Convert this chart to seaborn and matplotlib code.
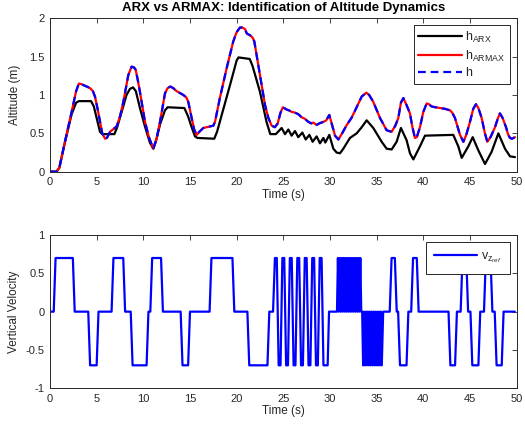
import matplotlib
matplotlib.use("Agg")
import matplotlib.pyplot as plt
import seaborn as sns
import pandas as pd

# ---------------- data ----------------
t_meas = [0, 0.7, 1.0, 1.6, 2.32, 2.8, 3.1, 3.4, 3.75, 4.29, 4.6, 4.82, 5.1, 5.36, 5.6, 5.9, 6.1,
          6.43, 7.14, 7.5, 7.86, 8.39, 8.75, 9.0, 9.18, 9.4, 9.64, 10.18, 10.6, 11.07, 11.4, 11.79,
          12.32, 12.6, 12.9, 13.2, 13.57, 14.29, 14.6, 14.82, 15.18, 15.45, 15.71, 16.0, 16.43,
          17.14, 17.5, 17.68, 18.2, 18.93, 19.64, 20.0, 20.36, 20.6, 20.89, 21.1, 21.43, 21.7,
          21.89, 22.2, 22.5, 23.04, 23.4, 23.75, 24.1, 24.4, 24.7, 24.95, 25.36, 25.6, 25.9, 26.25,
          26.6, 26.96, 27.3, 27.68, 28.0, 28.2, 28.57, 28.86, 29.3, 29.6, 29.93, 30.2, 30.54, 30.9,
          31.3, 31.8, 32.3, 32.7, 33.4, 33.9, 34.2, 34.64, 35.36, 36.07, 36.6, 37.0, 37.32, 37.6,
          37.86, 38.2, 38.57, 38.8, 39.1, 39.3, 39.64, 40.0, 40.36, 40.6, 40.89, 41.3, 41.79, 42.3,
          42.86, 43.1, 43.39, 43.93, 44.29, 44.6, 45.0, 45.35, 45.64, 45.9, 46.25, 46.6, 46.86,
          47.2, 47.68, 48.0, 48.21, 48.5, 48.86, 49.1, 49.29, 49.5, 49.82]
h_meas = [0, 0.0, 0.05, 0.39, 0.78, 1.05, 1.15, 1.14, 1.12, 1.09, 1.05, 0.98, 0.82, 0.65, 0.50, 0.43, 0.44,
          0.52, 0.59, 0.72, 0.91, 1.26, 1.37, 1.36, 1.33, 1.20, 1.04, 0.65, 0.45, 0.30, 0.42, 0.65,
          1.02, 1.09, 1.11, 1.09, 1.05, 1.00, 0.97, 0.91, 0.70, 0.55, 0.48, 0.52, 0.57,
          0.59, 0.60, 0.65, 0.96, 1.35, 1.70, 1.82, 1.88, 1.88, 1.86, 1.80, 1.78, 1.75,
          1.70, 1.48, 1.26, 0.87, 0.70, 0.60, 0.58, 0.63, 0.77, 0.84, 0.81, 0.80, 0.78, 0.77,
          0.75, 0.71, 0.69, 0.65, 0.63, 0.64, 0.61, 0.63, 0.65, 0.67, 0.74, 0.62, 0.47, 0.42,
          0.50, 0.61, 0.70, 0.80, 0.98, 1.03, 1.00, 0.91, 0.70, 0.54, 0.52, 0.60, 0.70, 0.90,
          0.96, 0.87, 0.76, 0.60, 0.44, 0.45, 0.58, 0.78, 0.89, 0.88, 0.85, 0.84, 0.83, 0.82,
          0.80, 0.77, 0.70, 0.48, 0.39, 0.48, 0.65, 0.82, 0.88, 0.83, 0.70, 0.50, 0.39,
          0.45, 0.58, 0.70, 0.76, 0.70, 0.58, 0.48, 0.44, 0.43, 0.45]
h_armax = list(h_meas)  # ARMAX output overlaps the measurement

t_arx = [0, 0.7, 1.0, 1.6, 2.32, 2.8, 3.1, 4.4, 4.7, 5.0, 5.36, 5.6, 6.9, 7.2, 7.68, 8.2, 8.57, 8.9,
         9.2, 9.64, 10.2, 10.7, 11.07, 11.4, 11.8, 12.32, 12.6, 14.4, 14.8, 15.18, 15.54, 15.8, 17.6,
         17.9, 18.4, 19.29, 20.0, 20.2, 21.4, 21.7, 22.5, 23.2, 23.6, 24.2, 24.82, 25.18, 25.54,
         25.89, 26.25, 26.6, 27.04, 27.4, 27.79, 28.14, 28.57, 28.93, 29.29, 29.5, 29.93, 30.36,
         30.71, 31.07, 31.43, 32.14, 32.86, 33.4, 33.93, 34.64, 35.54, 36.07, 36.61, 37.14, 37.6,
         38.21, 38.57, 38.93, 39.64, 40.18, 43.21, 43.75, 44.11, 44.82, 45.29, 45.89, 46.61, 47.32,
         48.04, 48.75, 49.29, 49.82]
h_arx = [0, 0, 0.05, 0.38, 0.75, 0.90, 0.92, 0.92, 0.85, 0.70, 0.52, 0.49, 0.49, 0.58, 0.78, 1.00, 1.08, 1.10,
         1.05, 0.83, 0.58, 0.38, 0.30, 0.42, 0.62, 0.80, 0.84, 0.83, 0.72, 0.58, 0.46, 0.44, 0.43,
         0.52, 0.74, 1.13, 1.45, 1.49, 1.47, 1.38, 1.04, 0.65, 0.49, 0.49, 0.57, 0.49, 0.55,
         0.47, 0.53, 0.45, 0.51, 0.42, 0.48, 0.39, 0.46, 0.37, 0.44, 0.38, 0.48, 0.30,
         0.25, 0.24, 0.30, 0.44, 0.50, 0.58, 0.67, 0.57, 0.39, 0.30, 0.29, 0.39, 0.57,
         0.41, 0.24, 0.16, 0.33, 0.47, 0.48, 0.33, 0.18, 0.33, 0.45, 0.28, 0.10, 0.26,
         0.50, 0.30, 0.20, 0.19]

# vertical velocity reference (breakpoints)
vz_t_pulses1 = [0.0, 0.4, 0.6, 2.45, 2.65, 4.1, 4.3, 5.0, 5.2, 6.6, 6.8, 7.85, 8.05, 8.65, 8.85, 10.35,
                10.55, 10.75, 10.95, 11.9, 12.1, 14.0, 14.2, 14.8, 15.0, 17.1, 17.3, 19.55, 19.75,
                21.15, 21.35, 23.3, 23.5, 23.9]
vz_v_pulses1 = [0, 0, 0.7, 0.7, 0, 0, -0.7, -0.7, 0, 0, 0.7, 0.7, 0, 0, -0.7, -0.7,
                0, 0, 0.7, 0.7, 0, 0, -0.7, -0.7, 0, 0, 0.7, 0.7, 0,
                0, -0.7, -0.7, 0, 0]
vz_t_square = [24.1, 24.3, 24.5, 24.7, 24.9, 25.1, 25.3, 25.5, 25.7, 25.9, 26.1, 26.3, 26.5, 26.7,
               26.9, 27.1, 27.3, 27.5, 27.7, 27.9, 28.1, 28.3, 28.5, 28.7, 28.9, 29.1, 29.3, 29.75,
               29.9, 30.75]
vz_v_square = [0.7, 0.7, -0.7, -0.7, 0.7, 0.7, -0.7, -0.7, 0.7, 0.7, -0.7, -0.7, 0.7, 0.7,
               -0.7, -0.7, 0.7, 0.7, -0.7, -0.7, 0.7, 0.7, -0.7, -0.7, 0.7, 0.7, -0.7, -0.7,
               0, 0]
vz_t_chatter_up = [30.85, 30.95, 31.05, 31.15, 31.25, 31.35, 31.45, 31.55, 31.65, 31.75, 31.85, 31.95,
                   32.05, 32.15, 32.25, 32.35, 32.45, 32.55, 32.65, 32.75, 32.85, 32.95, 33.05, 33.15,
                   33.25, 33.35, 33.45]
vz_v_chatter_up = [0.7, 0, 0.7, 0, 0.7, 0, 0.7, 0, 0.7, 0, 0.7, 0,
                   0.7, 0, 0.7, 0, 0.7, 0, 0.7, 0, 0.7, 0, 0.7, 0,
                   0.7, 0, 0]
vz_t_chatter_dn = [33.55, 33.65, 33.75, 33.85, 33.95, 34.05, 34.15, 34.25, 34.35, 34.45, 34.55, 34.65,
                   34.75, 34.85, 34.95, 35.05, 35.15, 35.25, 35.35, 35.45, 35.55]
vz_v_chatter_dn = [-0.7, 0, -0.7, 0, -0.7, 0, -0.7, 0, -0.7, 0, -0.7, 0,
                   -0.7, 0, -0.7, 0, -0.7, 0, -0.7, 0, -0.7]
vz_t_pulses2 = [35.7, 36.4, 36.6, 36.95, 37.15, 37.3, 37.5, 38.2, 38.4, 38.7, 38.9, 39.3, 39.5, 42.7,
                42.9, 43.4, 43.6, 44.0, 44.2, 44.6, 44.8, 45.05, 45.25, 45.9, 46.1, 46.5, 46.7, 47.2,
                47.4, 47.65, 47.85, 48.4, 48.6, 49.8]
vz_v_pulses2 = [0, 0, 0.7, 0.7, 0, 0, -0.7, -0.7, 0, 0, 0.7, 0.7, 0, 0,
                -0.7, -0.7, 0, 0, 0.7, 0.7, 0, 0, -0.7, -0.7, 0, 0, 0.7, 0.7,
                0, 0, -0.7, -0.7, 0, 0]

x_ticks = [0, 5, 10, 15, 20, 25, 30, 35, 40, 45, 50]
y_ticks_top = [0, 0.5, 1, 1.5, 2]
y_ticks_bot = [-1, -0.5, 0, 0.5, 1]

# ---------------- style ----------------
sns.set_style("white")
plt.rcParams['font.family'] = ['Liberation Sans', 'DejaVu Sans']
plt.rcParams['mathtext.fontset'] = 'custom'
plt.rcParams['mathtext.rm'] = 'Liberation Sans'
plt.rcParams['mathtext.it'] = 'Liberation Sans:italic'
plt.rcParams['mathtext.default'] = 'rm'

axcol = (0.15, 0.15, 0.15)

fig = plt.figure(figsize=(5.25, 4.34), dpi=100)
ax1 = fig.add_axes([0.0952, 0.6044, 0.8889, 0.3534])
ax2 = fig.add_axes([0.0952, 0.1053, 0.8889, 0.3532])

df_top = pd.DataFrame({"t": t_meas, "h": h_meas, "armax": h_armax})
df_arx = pd.DataFrame({"t": t_arx, "arx": h_arx})
vz_t = vz_t_pulses1 + vz_t_square + vz_t_chatter_up + vz_t_chatter_dn + vz_t_pulses2
vz_v = vz_v_pulses1 + vz_v_square + vz_v_chatter_up + vz_v_chatter_dn + vz_v_pulses2
df_vz = pd.DataFrame({"t": vz_t, "vz": vz_v})

sns.lineplot(data=df_arx, x="t", y="arx", ax=ax1, color="black", linewidth=1.6,
             sort=False, estimator=None, label=r"h$_{\mathrm{ARX}}$")
sns.lineplot(data=df_top, x="t", y="armax", ax=ax1, color="#ff0000", linewidth=1.6,
             sort=False, estimator=None, label=r"h$_{\mathrm{ARMAX}}$")
sns.lineplot(data=df_top, x="t", y="h", ax=ax1, color="#0000ff", linewidth=1.6,
             linestyle=(0, (3.5, 2.2)), sort=False, estimator=None, label="h")

sns.lineplot(data=df_vz, x="t", y="vz", ax=ax2, color="#0000ff", linewidth=1.6,
             sort=False, estimator=None, label=r"v$_{z_{\mathit{ref}}}$")

for ax, yt, ylim in [(ax1, y_ticks_top, (0, 2)), (ax2, y_ticks_bot, (-1, 1))]:
    ax.set_xlim(0, 50)
    ax.set_ylim(*ylim)
    ax.set_xticks(x_ticks)
    ax.set_yticks(yt)
    ax.set_yticklabels([f"{v:g}" for v in yt])
    ax.tick_params(direction="in", length=3.5, width=0.6, top=True, right=True,
                   labelsize=8, colors=axcol, labelcolor=axcol, pad=4)
    for s in ax.spines.values():
        s.set_visible(True)
        s.set_color(axcol)
        s.set_linewidth(0.7)
    ax.set_xlabel("Time (s)", fontsize=8.5, color=axcol, labelpad=1)

ax1.set_ylabel("Altitude (m)", fontsize=8.5, color=axcol, labelpad=6)
ax2.set_ylabel("Vertical Velocity", fontsize=8.5, color=axcol, labelpad=4)
ax1.set_title("ARX vs ARMAX: Identification of Altitude Dynamics", fontsize=9.5,
              fontweight="bold", color="black", pad=5)

leg_kw = dict(loc="upper right", fontsize=9, frameon=True, fancybox=False, framealpha=1,
              edgecolor=axcol, handlelength=3.5, handletextpad=0.3, borderaxespad=0.55,
              borderpad=0.35)
l1 = ax1.legend(labelspacing=0.3, **leg_kw)
l2 = ax2.legend(labelspacing=0.5, **{**leg_kw, "borderpad": 0.7, "handlelength": 3.4})
for l in (l1, l2):
    l.get_frame().set_linewidth(0.7)

fig.savefig("out.png", dpi=100)
